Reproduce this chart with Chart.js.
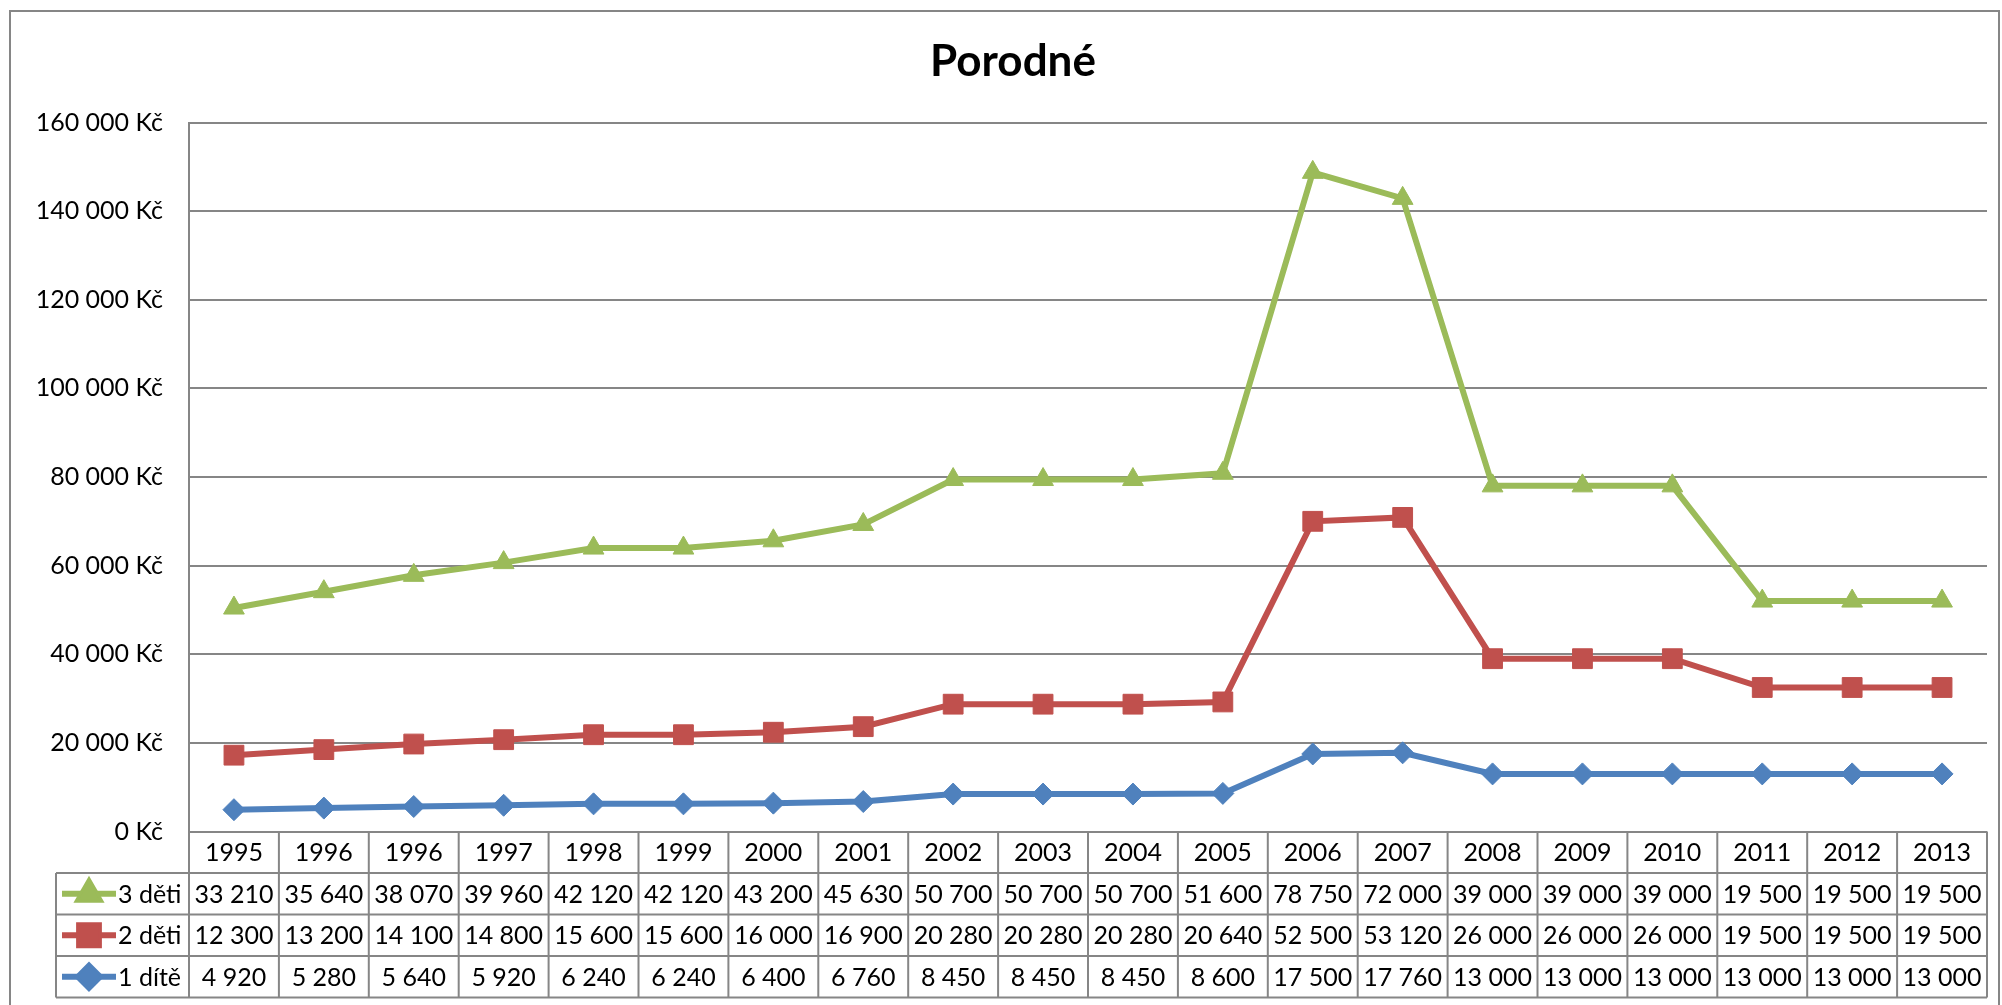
<!DOCTYPE html>
<html>
<head>
<meta charset="utf-8">
<script src="https://cdn.jsdelivr.net/npm/chart.js@4.4.1/dist/chart.umd.min.js"></script>
<style>
  html, body { margin: 0; padding: 0; background: #fff; }
  canvas { display: block; }
</style>
</head>
<body>
<canvas id="ChartPorodne" width="2002" height="1005"></canvas>
<script>
const roky = [
    "1995", "1996", "1996", "1997", "1998", "1999", "2000", "2001", "2002", "2003",
    "2004", "2005", "2006", "2007", "2008", "2009", "2010", "2011", "2012", "2013",
];
const triDeti = [
    33210, 35640, 38070, 39960, 42120, 42120, 43200, 45630, 50700, 50700,
    50700, 51600, 78750, 72000, 39000, 39000, 39000, 19500, 19500, 19500,
];
const dveDeti = [
    12300, 13200, 14100, 14800, 15600, 15600, 16000, 16900, 20280, 20280,
    20280, 20640, 52500, 53120, 26000, 26000, 26000, 19500, 19500, 19500,
];
const jednoDite = [
    4920, 5280, 5640, 5920, 6240, 6240, 6400, 6760, 8450, 8450,
    8450, 8600, 17500, 17760, 13000, 13000, 13000, 13000, 13000, 13000,
];
const yTicks = [0, 20000, 40000, 60000, 80000, 100000, 120000, 140000, 160000];

const ZELENA = "#9BBB59";
const CERVENA = "#C0504D";
const MODRA = "#4F81BD";
const SEDA = "#868686";
const FONT = "Lato, 'Open Sans', sans-serif";

function cislo(v) {
    return String(v).replace(/\B(?=(\d{3})+(?!\d))/g, " ");
}

// rows of the data table, top to bottom (same order as in Excel)
const radky = [
    { label: "3 děti", data: triDeti, color: ZELENA, style: "triangle", r: 12 },
    { label: "2 děti", data: dveDeti, color: CERVENA, style: "rect", r: 14 },
    { label: "1 dítě", data: jednoDite, color: MODRA, style: "rectRot", r: 11 },
];

const tabulkaPlugin = {
    id: "tabulka",
    afterDraw(chart) {
        const ctx = chart.ctx;
        const area = chart.chartArea;
        const x = chart.scales.x;
        const n = roky.length;
        const w = (area.right - area.left) / n;
        const rowH = 41.5;
        const top = area.bottom;
        const legendLeft = 56;

        ctx.save();

        // outer chart border
        ctx.strokeStyle = SEDA;
        ctx.lineWidth = 2;
        ctx.strokeRect(10, 11, 1989, 1010);

        // title
        ctx.fillStyle = "#000";
        ctx.font = "bold 44px " + FONT;
        ctx.textAlign = "center";
        ctx.textBaseline = "middle";
        ctx.fillText("Porodné", 1013, 62);

        // grid of the table
        ctx.strokeStyle = SEDA;
        ctx.lineWidth = 2;
        ctx.beginPath();
        for (let r = 1; r <= 4; r++) {
            const y = top + r * rowH;
            ctx.moveTo(legendLeft, y);
            ctx.lineTo(area.right, y);
        }
        ctx.moveTo(legendLeft, top + rowH);
        ctx.lineTo(legendLeft, top + 4 * rowH);
        for (let i = 0; i <= n; i++) {
            const xx = area.left + i * w;
            ctx.moveTo(xx, top);
            ctx.lineTo(xx, top + 4 * rowH);
        }
        ctx.stroke();

        // header (years) and values
        ctx.fillStyle = "#000";
        ctx.font = "25px " + FONT;
        ctx.textAlign = "center";
        ctx.textBaseline = "middle";
        roky.forEach((rok, i) => {
            const cx = x.getPixelForValue(i);
            ctx.fillText(rok, cx, top + rowH / 2 + 1);
            radky.forEach((radek, r) => {
                ctx.fillText(cislo(radek.data[i]), cx, top + (r + 1.5) * rowH + 1);
            });
        });

        // legend keys in the first column
        radky.forEach((radek, r) => {
            const cy = top + (r + 1.5) * rowH;
            ctx.strokeStyle = radek.color;
            ctx.lineWidth = 6;
            ctx.beginPath();
            ctx.moveTo(62, cy);
            ctx.lineTo(116, cy);
            ctx.stroke();
            ctx.fillStyle = radek.color;
            Chart.helpers.drawPoint(ctx, {
                pointStyle: radek.style,
                radius: radek.r,
                rotation: 0,
                borderWidth: 1,
            }, 89, cy);
            ctx.fill();
            ctx.fillStyle = "#000";
            ctx.textAlign = "left";
            ctx.fillText(radek.label, 118, cy + 1);
        });

        ctx.restore();
    },
};

function serie(label, data, color, style, r) {
    return {
        label: label,
        data: data,
        borderColor: color,
        backgroundColor: color,
        pointBackgroundColor: color,
        pointBorderColor: color,
        pointStyle: style,
        pointRadius: r,
        pointBorderWidth: 1,
        borderWidth: 6,
        tension: 0,
        fill: false,
    };
}

new Chart(document.getElementById("ChartPorodne"), {
    type: "line",
    data: {
        labels: roky,
        datasets: [
            serie("1 dítě", jednoDite, MODRA, "rectRot", 11),
            serie("2 děti", dveDeti, CERVENA, "rect", 14),
            serie("3 děti", triDeti, ZELENA, "triangle", 12),
        ],
    },
    options: {
        responsive: false,
        animation: false,
        devicePixelRatio: 1,
        layout: {
            padding: { left: 0, right: 15, top: 122.5, bottom: 173.5 },
        },
        scales: {
            x: {
                type: "category",
                display: false,
                offset: true,
            },
            y: {
                stacked: true,
                min: 0,
                max: 160000,
                afterFit(scale) {
                    scale.width = 189;
                },
                afterBuildTicks(scale) {
                    scale.ticks = yTicks.map((v) => ({ value: v }));
                },
                border: { display: true, color: SEDA, width: 2 },
                grid: {
                    color: SEDA,
                    lineWidth: 2,
                    drawTicks: false,
                },
                ticks: {
                    padding: 26,
                    color: "#000",
                    font: { family: FONT, size: 25 },
                    callback: function (value) {
                        return cislo(value) + " Kč";
                    },
                },
            },
        },
        plugins: {
            legend: { display: false },
            title: { display: false },
            tooltip: { enabled: false },
        },
    },
    plugins: [tabulkaPlugin],
});
</script>
</body>
</html>
